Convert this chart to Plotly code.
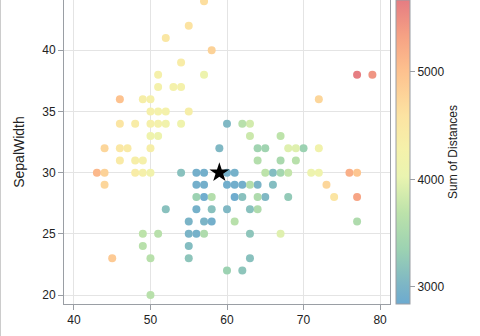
import plotly.graph_objects as go

# Unique (SepalLength, SepalWidth) positions in mm and estimated sum of distances
sepal_length = [
    57, 55, 52, 58, 54, 57, 51, 51, 53, 54, 46, 49, 50, 50, 51, 52, 55, 46, 48, 50,
    51, 52, 54, 50, 51, 44, 46, 47, 50, 46, 48, 49, 43, 44, 48, 49, 50, 44, 45,
    70, 64, 69, 55, 65, 57, 63, 49, 66, 52, 50, 60, 61, 56, 67, 56, 58, 62, 56,
    59, 61, 63, 64, 66, 68, 67, 60, 57, 55, 60, 54, 60, 63, 55, 55, 61, 58, 50,
    56, 57, 57, 62, 51, 71, 63, 65, 76, 49, 73, 67, 72, 65, 64, 68, 57, 58, 77,
    77, 69, 56, 77, 63, 67, 72, 62, 64, 72, 74, 79, 61, 77, 63, 64, 60, 68, 62,
]
sepal_width = [
    44, 42, 41, 40, 39, 38, 38, 37, 37, 37, 36, 36, 36, 35, 35, 35, 35, 34, 34, 34,
    34, 34, 34, 33, 33, 32, 32, 32, 32, 31, 31, 31, 30, 30, 30, 30, 30, 29, 23,
    32, 32, 31, 23, 28, 28, 33, 24, 29, 27, 20, 22, 29, 29, 31, 30, 27, 22, 25,
    32, 28, 25, 29, 30, 28, 30, 29, 26, 24, 27, 30, 34, 23, 25, 26, 30, 26, 23,
    27, 30, 29, 29, 25, 30, 29, 30, 30, 25, 29, 25, 36, 32, 27, 30, 25, 28, 38,
    26, 32, 28, 28, 27, 33, 32, 28, 28, 30, 28, 38, 26, 30, 34, 31, 30, 32, 34,
]
sum_of_distances = [
    4650, 4600, 4500, 4800, 4400, 4100, 4300, 4250, 4250, 4250, 5000, 4350, 4300, 4300, 4250, 4250, 4350, 4550, 4400, 4300,
    4250, 4200, 4150, 4150, 4100, 4750, 4500, 4450, 4350, 4450, 4350, 4300, 5100, 4800, 4400, 4300, 4200, 4750, 4900,
    3350, 3400, 3650, 3200, 3050, 2880, 3800, 3650, 3100, 3150, 3650, 3350, 2900, 2920, 3500, 2920, 3150, 3200, 2950,
    3050, 2870, 3200, 3000, 3100, 3250, 3450, 2900, 3000, 3100, 3050, 3150, 3050, 3150, 3000, 3000, 2950, 2920, 3650,
    2950, 2920, 2920, 2920, 3650, 4100, 3600, 3700, 5200, 3700, 4750, 3950, 4750, 3400, 3550, 3750, 3550, 3600, 5650,
    3550, 3950, 3350, 5300, 3150, 3700, 4200, 3150, 3550, 4150, 4550, 5450, 3650, 4950, 3850, 3600, 2950, 3950, 3650,
]
medoid_x = [59]
medoid_y = [30]

x_ticks = [40, 50, 60, 70, 80]
y_ticks = [20, 25, 30, 35, 40, 45]
cbar_ticks = [3000, 4000, 5000]

colorscale = [
    [0.00, "#6caad0"],
    [0.06, "#7cb5c6"],
    [0.18, "#9cd2b2"],
    [0.30, "#bce2aa"],
    [0.42, "#eaf4b0"],
    [0.51, "#f5f1aa"],
    [0.62, "#fce3a2"],
    [0.77, "#fdc08e"],
    [0.88, "#f6a284"],
    [1.00, "#e57c82"],
]

font_family = "Liberation Sans, Arial, sans-serif"
axis_color = "#9a9ea4"

fig = go.Figure()
fig.add_trace(go.Scatter(
    x=sepal_length, y=sepal_width, mode="markers",
    marker=dict(
        size=8, color=sum_of_distances, colorscale=colorscale,
        cmin=2840, cmax=5670, line=dict(width=0),
        colorbar=dict(
            title=dict(text="Sum of Distances", side="right",
                       font=dict(size=12, color="#222", family=font_family)),
            tickvals=cbar_ticks, ticks="outside", ticklen=5, tickcolor=axis_color,
            tickfont=dict(size=12, color="#222", family=font_family),
            thickness=14, len=1, lenmode="fraction", y=0.5, yanchor="middle",
            x=1.018, xanchor="left", xpad=0, ypad=0,
            outlinecolor=axis_color, outlinewidth=1,
        ),
    ),
    showlegend=False, hoverinfo="x+y",
))
fig.add_trace(go.Scatter(
    x=medoid_x, y=medoid_y, mode="markers",
    marker=dict(symbol="star", size=15, color="black", line=dict(width=0)),
    showlegend=False,
))

fig.update_layout(
    width=480, height=336,
    margin=dict(l=64, r=90, t=0, b=32),
    paper_bgcolor="white", plot_bgcolor="white",
    font=dict(family=font_family, size=12, color="#222"),
    xaxis=dict(
        range=[38.7, 81.3], tickvals=x_ticks, showgrid=True, gridcolor="#e4e4e4",
        ticks="outside", ticklen=5, tickcolor=axis_color, showline=True,
        linecolor=axis_color, mirror=True, zeroline=False,
        automargin=False, tickfont=dict(size=12),
    ),
    yaxis=dict(
        range=[19.27, 44.1], tickvals=y_ticks, showgrid=True, gridcolor="#e4e4e4",
        ticks="outside", ticklen=5, tickcolor=axis_color, showline=True,
        linecolor=axis_color, mirror=True, zeroline=False,
        title=dict(text="SepalWidth", standoff=14), automargin=False,
        tickfont=dict(size=12),
    ),
    shapes=[dict(type="line", xref="paper", yref="paper",
                 x0=-63.5 / 326, x1=-63.5 / 326, y0=-0.2, y1=1.1,
                 line=dict(color="#cccccc", width=1))],
)

fig.write_html("out.html")
